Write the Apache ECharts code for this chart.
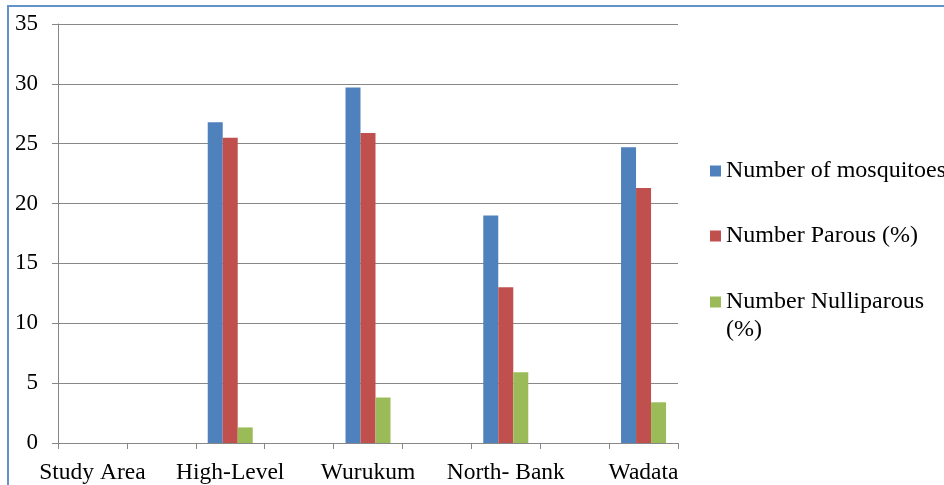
<!DOCTYPE html>
<html>
<head>
<meta charset="utf-8">
<script src="https://cdn.jsdelivr.net/npm/echarts@6/dist/echarts.min.js"></script>
<style>
  html, body { margin: 0; padding: 0; background: #fff; }
  #chart { width: 944px; height: 485px; }
</style>
</head>
<body>
<div id="chart"></div>
<script>
// Categories (blank slots are empty categories in the original sheet)
const categories = ["Study Area", "", "High-Level", "", "Wurukum", "", "North- Bank", "", "Wadata"];
const seriesNames = ["Number of mosquitoes", "Number Parous (%)", "Number Nulliparous (%)"];
const mosquitoes = [null, null, 26.8, null, 29.7, null, 19.0, null, 24.7];
const parous = [null, null, 25.5, null, 25.9, null, 13.0, null, 21.3];
const nulliparous = [null, null, 1.3, null, 3.8, null, 5.9, null, 3.4];
const yTicks = { min: 0, max: 35, interval: 5 };

const colors = ["#4F81BD", "#C0504D", "#9BBB59"];
const font = "'Liberation Serif', 'Times New Roman', serif";
const axisGray = "#878787";

const legendBase = {
  orient: 'vertical',
  left: 710,
  padding: 0,
  itemWidth: 11,
  itemHeight: 11,
  icon: 'rect',
  textStyle: { fontFamily: font, fontSize: 24, color: '#000', lineHeight: 28 }
};

const chart = echarts.init(document.getElementById('chart'), null, { renderer: 'canvas' });
chart.setOption({
  animation: false,
  color: colors,
  graphic: [{
    type: 'rect',
    shape: { x: 8, y: 6, width: 1200, height: 800 },
    style: { fill: 'none', stroke: '#6591C9', lineWidth: 2 },
    silent: true
  }],
  grid: { left: 58, right: 266, top: 24, bottom: 42, containLabel: false },
  legend: [
    Object.assign({}, legendBase, { top: 157, data: [seriesNames[0]] }),
    Object.assign({}, legendBase, { top: 222, data: [seriesNames[1]] }),
    Object.assign({}, legendBase, {
      top: 260,
      data: [seriesNames[2]],
      formatter: '\n{name}',
      textStyle: Object.assign({}, legendBase.textStyle, { width: 210, overflow: 'break' })
    })
  ],
  xAxis: {
    type: 'category',
    data: categories,
    axisLine: { lineStyle: { color: axisGray, width: 1 } },
    axisTick: { show: true, interval: 0, length: 6, lineStyle: { color: axisGray } },
    axisLabel: { interval: 0, fontFamily: font, fontSize: 23.5, color: '#000', margin: 18 },
    splitLine: { show: false }
  },
  yAxis: {
    type: 'value',
    min: yTicks.min,
    max: yTicks.max,
    interval: yTicks.interval,
    axisLine: { show: true, lineStyle: { color: axisGray, width: 1 } },
    axisTick: { show: true, length: 6, lineStyle: { color: axisGray } },
    axisLabel: { fontFamily: font, fontSize: 23, color: '#000', margin: 20 },
    splitLine: { show: true, lineStyle: { color: axisGray, width: 1 } }
  },
  series: [
    { name: seriesNames[0], type: 'bar', data: mosquitoes, barWidth: 15, barGap: '0%' },
    { name: seriesNames[1], type: 'bar', data: parous, barWidth: 15, barGap: '0%' },
    { name: seriesNames[2], type: 'bar', data: nulliparous, barWidth: 15, barGap: '0%' }
  ]
});
</script>
</body>
</html>
